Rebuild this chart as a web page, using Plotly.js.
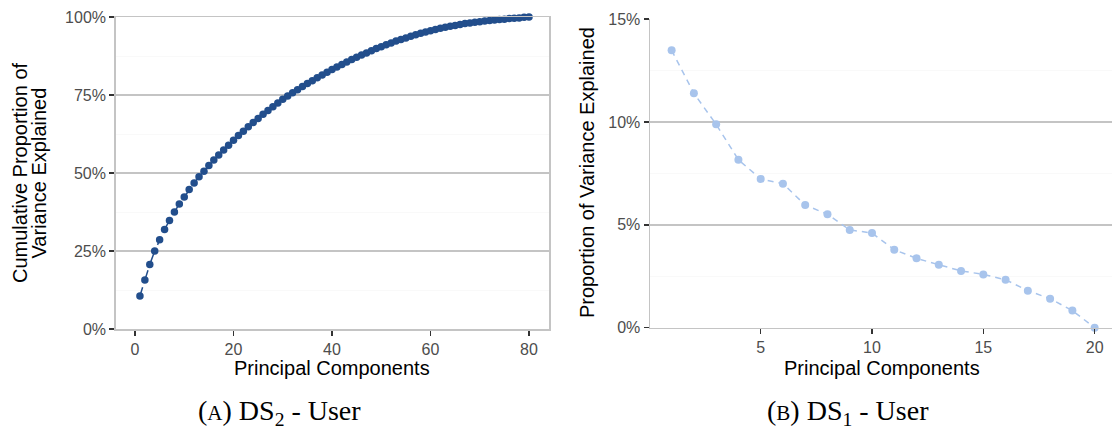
<!DOCTYPE html>
<html>
<head>
<meta charset="utf-8">
<script src="https://cdn.plot.ly/plotly-3.0.1.min.js"></script>
<style>html,body{margin:0;padding:0;background:#fff;}#chart{width:1112px;height:432px;}</style>
</head>
<body>
<div id="chart"></div>
<script>
// (A) DS2 - User : cumulative proportion of variance explained, PCs 1..80
const pcA = Array.from({length: 80}, (_, i) => i + 1);
const cumVarA = [
  0.106, 0.157, 0.207, 0.250, 0.286, 0.319, 0.348, 0.375, 0.401, 0.423,
  0.447, 0.468, 0.488, 0.506, 0.524, 0.542, 0.558, 0.574, 0.589, 0.605,
  0.620, 0.634, 0.648, 0.662, 0.675, 0.688, 0.700, 0.712, 0.724, 0.736,
  0.747, 0.757, 0.767, 0.777, 0.787, 0.796, 0.805, 0.814, 0.823, 0.832,
  0.840, 0.848, 0.856, 0.864, 0.871, 0.878, 0.885, 0.892, 0.899, 0.905,
  0.911, 0.917, 0.923, 0.928, 0.933, 0.938, 0.943, 0.948, 0.952, 0.956,
  0.960, 0.964, 0.967, 0.970, 0.973, 0.976, 0.979, 0.981, 0.983, 0.985,
  0.987, 0.989, 0.990, 0.992, 0.993, 0.995, 0.996, 0.997, 0.999, 1.000
];
// (B) DS1 - User : proportion of variance explained (%), PCs 1..20
const pcB = Array.from({length: 20}, (_, i) => i + 1);
const varB = [13.48, 11.39, 9.88, 8.16, 7.23, 7.00, 5.96, 5.51, 4.75, 4.60,
              3.79, 3.37, 3.06, 2.76, 2.59, 2.33, 1.80, 1.41, 0.83, 0.00];

const tickValsA = [0, 0.25, 0.5, 0.75, 1];
const tickValsB = [0, 5, 10, 15];
const tickTextB = ['0%', '5%', '10%', '15%'];
const xTicksA = [0, 20, 40, 60, 80];
const xTicksB = [5, 10, 15, 20];

const W = 1112, H = 432;
const px = v => v / W, py = v => 1 - v / H;

const colA = '#224e8c', colB = '#a8c4ec';
const grid = '#c4c4c4';
const tickFont = {family: 'Liberation Sans, Arial, sans-serif', size: 16, color: '#4d4d4d'};
const titleFont = {family: 'Liberation Sans, Arial, sans-serif', size: 20, color: '#000'};
const capFont = {family: 'Liberation Serif, Times New Roman, serif', size: 28, color: '#000'};

const traces = [
  {x: pcA, y: cumVarA, type: 'scatter', mode: 'lines+markers', xaxis: 'x', yaxis: 'y',
   line: {color: colA, width: 1.5, dash: 'dash'}, marker: {color: colA, size: 7.5},
   cliponaxis: false, hoverinfo: 'x+y'},
  {x: pcB, y: varB, type: 'scatter', mode: 'lines+markers', xaxis: 'x2', yaxis: 'y2',
   line: {color: colB, width: 1.5, dash: '6px,5px'}, marker: {color: colB, size: 8},
   cliponaxis: false, hoverinfo: 'x+y'}
];

const axisCommon = {
  ticks: 'outside', ticklen: 5, tickwidth: 1.5, tickcolor: '#333',
  tickfont: tickFont, zeroline: false, fixedrange: true
};

const layout = {
  width: W, height: H, margin: {l: 0, r: 0, t: 0, b: 0},
  paper_bgcolor: '#fff', plot_bgcolor: '#fff', showlegend: false,
  xaxis: Object.assign({}, axisCommon, {
    domain: [px(115.7), px(549.3)], range: [-3.92, 84.12],
    tickmode: 'array', tickvals: xTicksA, showgrid: false,
    showline: true, mirror: true, linecolor: grid, linewidth: 1.5, anchor: 'y'
  }),
  yaxis: Object.assign({}, axisCommon, {
    domain: [py(329), py(17)], range: [0, 1],
    tickmode: 'array', tickvals: tickValsA, tickformat: '.0%',
    showgrid: true, gridcolor: grid, gridwidth: 1.5,
    minor: {tickvals: [0.125, 0.375, 0.625, 0.875], showgrid: true, gridcolor: '#f9f9f9', gridwidth: 1, ticks: ''},
    showline: true, mirror: true, linecolor: grid, linewidth: 1.5, anchor: 'x'
  }),
  xaxis2: Object.assign({}, axisCommon, {
    domain: [px(650), 1], range: [0.029, 20.78],
    tickmode: 'array', tickvals: xTicksB, showgrid: false,
    showline: true, linecolor: grid, linewidth: 1.5, anchor: 'y2'
  }),
  yaxis2: Object.assign({}, axisCommon, {
    domain: [py(327.7), py(19)], range: [0, 15],
    tickmode: 'array', tickvals: tickValsB, ticktext: tickTextB,
    showgrid: true, gridcolor: grid, gridwidth: 1.5,
    minor: {tickvals: [2.5, 7.5, 12.5], showgrid: true, gridcolor: '#f9f9f9', gridwidth: 1, ticks: ''},
    showline: true, linecolor: grid, linewidth: 1.5, anchor: 'x2'
  }),
  annotations: [
    {text: 'Principal Components', xref: 'paper', yref: 'paper', x: px(332.5), y: py(368),
     xanchor: 'center', yanchor: 'middle', showarrow: false, font: titleFont},
    {text: 'Principal Components', xref: 'paper', yref: 'paper', x: px(882), y: py(368),
     xanchor: 'center', yanchor: 'middle', showarrow: false, font: titleFont},
    {text: 'Cumulative Proportion of', xref: 'paper', yref: 'paper', x: px(20), y: py(173),
     xanchor: 'center', yanchor: 'middle', textangle: -90, showarrow: false, font: titleFont},
    {text: 'Variance Explained', xref: 'paper', yref: 'paper', x: px(38.5), y: py(173),
     xanchor: 'center', yanchor: 'middle', textangle: -90, showarrow: false, font: titleFont},
    {text: 'Proportion of Variance Explained', xref: 'paper', yref: 'paper', x: px(587), y: py(173),
     xanchor: 'center', yanchor: 'middle', textangle: -90, showarrow: false, font: titleFont},
    {text: '(<span style="font-size:21px">A</span>) DS<sub>2</sub> - User', xref: 'paper', yref: 'paper',
     x: px(279), y: py(412), xanchor: 'center', yanchor: 'middle', showarrow: false, font: capFont},
    {text: '(<span style="font-size:21px">B</span>) DS<sub>1</sub> - User', xref: 'paper', yref: 'paper',
     x: px(847.5), y: py(412), xanchor: 'center', yanchor: 'middle', showarrow: false, font: capFont}
  ]
};

Plotly.newPlot('chart', traces, layout, {displayModeBar: false, staticPlot: true});
</script>
</body>
</html>
